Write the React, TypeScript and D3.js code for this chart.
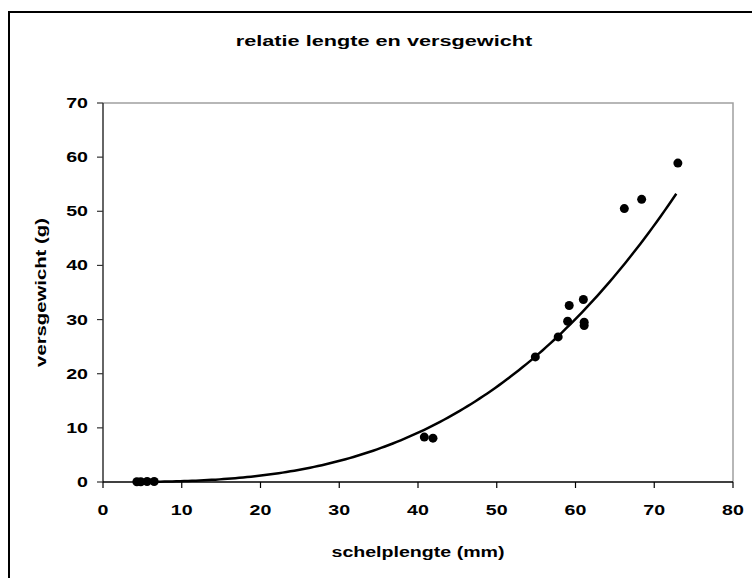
import { useEffect, useRef } from 'react';
import * as d3 from 'd3';

// shell length (mm) and fresh weight (g)
const lengths = [4.3, 4.8, 5.6, 6.5, 40.8, 41.9, 54.9, 57.8, 59.0, 59.2, 61.0, 61.1, 61.1, 66.2, 68.4, 73.0];
const weights = [0.05, 0.05, 0.1, 0.1, 8.3, 8.1, 23.1, 26.8, 29.7, 32.6, 33.7, 29.5, 28.9, 50.5, 52.2, 58.9];

const xTicks = [0, 10, 20, 30, 40, 50, 60, 70, 80];
const yTicks = [0, 10, 20, 30, 40, 50, 60, 70];

// power trendline y = a * x^b (as shown on the chart)
const trendA = 1.71e-4;
const trendB = 2.95;

const FONT = '"Liberation Sans", Arial, sans-serif';
const STRETCH = 1.4;

export default function App() {
    const svgRef = useRef<SVGSVGElement | null>(null);

    useEffect(() => {
        if (!svgRef.current) return;
        const svg = d3.select(svgRef.current);
        svg.selectAll('*').remove();

        const left = 103, right = 733, top = 103, bottom = 482;
        const x = d3.scaleLinear().domain([0, 80]).range([left, right]);
        const y = d3.scaleLinear().domain([0, 70]).range([bottom, top]);

        svg.append('rect').attr('width', 752).attr('height', 578).attr('fill', '#fff');

        // chart frame
        svg.append('rect')
            .attr('x', 9).attr('y', 12)
            .attr('width', 800).attr('height', 600)
            .attr('fill', 'none').attr('stroke', '#000').attr('stroke-width', 2);

        // plot area border
        svg.append('path')
            .attr('d', `M${left},${top}H${right}V${bottom}`)
            .attr('fill', 'none').attr('stroke', '#a0a0a0').attr('stroke-width', 1.5);

        const label = (tx: number, ty: number, text: string, size: number, anchor: string, rotate = 0) =>
            svg.append('text')
                .attr('transform', `translate(${tx},${ty}) rotate(${rotate}) scale(${STRETCH},1)`)
                .attr('text-anchor', anchor)
                .attr('font-family', FONT)
                .attr('font-weight', 'bold')
                .attr('font-size', size)
                .attr('fill', '#000')
                .text(text);

        // axes
        svg.append('line')
            .attr('x1', left).attr('x2', left).attr('y1', top).attr('y2', bottom)
            .attr('stroke', '#333').attr('stroke-width', 1.5);
        svg.append('line')
            .attr('x1', left).attr('x2', right).attr('y1', bottom).attr('y2', bottom)
            .attr('stroke', '#000').attr('stroke-width', 1.5);

        yTicks.forEach((t) => {
            svg.append('line')
                .attr('x1', left - 6).attr('x2', left).attr('y1', y(t)).attr('y2', y(t))
                .attr('stroke', '#333').attr('stroke-width', 1.2);
            label(88, y(t) + 5, String(t), 14, 'end');
        });

        xTicks.forEach((t) => {
            svg.append('line')
                .attr('x1', x(t)).attr('x2', x(t)).attr('y1', bottom).attr('y2', bottom + 6)
                .attr('stroke', '#000').attr('stroke-width', 1.2);
            label(x(t), 515, String(t), 14, 'middle');
        });

        // titles
        label(384, 46, 'relatie lengte en versgewicht', 15.5, 'middle');
        label(418, 557, 'schelplengte (mm)', 14, 'middle');
        label(46, (top + bottom) / 2, 'versgewicht (g)', 14.5, 'middle', -90);

        // trendline
        const xMin = d3.min(lengths) as number;
        const xMax = d3.max(lengths) as number;
        const samples = d3.range(xMin, xMax + 0.001, 0.5);
        const line = d3.line<number>()
            .x((d) => x(d))
            .y((d) => y(trendA * Math.pow(d, trendB)));
        svg.append('path')
            .datum(samples)
            .attr('d', line)
            .attr('fill', 'none')
            .attr('stroke', '#000')
            .attr('stroke-width', 2.5);

        // points
        svg.append('g')
            .selectAll('circle')
            .data(lengths)
            .join('circle')
            .attr('cx', (d) => x(d))
            .attr('cy', (_d, i) => y(weights[i]))
            .attr('r', 4.5)
            .attr('fill', '#000');
    }, []);

    return (
        <svg
            ref={svgRef}
            width={752}
            height={578}
            style={{ position: 'absolute', left: 0, top: 0 }}
        ></svg>
    );
}
